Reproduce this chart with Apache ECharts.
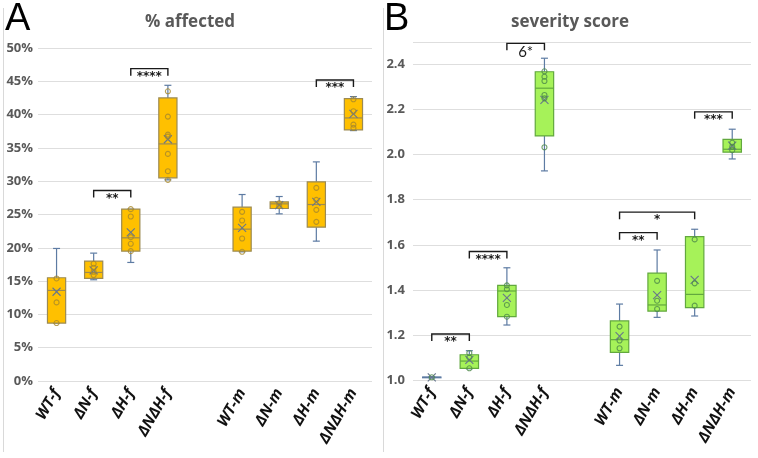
<!DOCTYPE html>
<html>
<head>
<meta charset="utf-8">
<script src="https://cdn.jsdelivr.net/npm/echarts@6/dist/echarts.min.js"></script>
<style>
  html, body { margin: 0; padding: 0; background: #fff; }
  #chart { width: 758px; height: 458px; }
</style>
</head>
<body>
<div id="chart"></div>
<script>
// categories, index 4 is the empty gap between f and m
const categories = ['WT-f', 'ΔN-f', 'ΔH-f', 'ΔNΔH-f', '', 'WT-m', 'ΔN-m', 'ΔH-m', 'ΔNΔH-m']
const groupIndex = [0, 1, 2, 3, 5, 6, 7, 8]

// % affected: [min, q1, median, q3, max, mean]
const affectedStats = [
  [8.7, 8.7, 13.6, 15.5, 19.9, 13.4],
  [15.2, 15.4, 16.3, 18.0, 19.2, 16.6],
  [17.8, 19.5, 21.5, 25.8, 25.8, 22.3],
  [30.2, 30.5, 35.6, 42.5, 44.4, 36.3],
  [19.4, 19.5, 22.8, 26.1, 28.0, 23.0],
  [25.1, 25.9, 26.6, 26.9, 27.7, 26.4],
  [21.0, 23.1, 26.5, 29.9, 32.9, 26.9],
  [37.6, 37.7, 39.5, 42.4, 42.7, 40.1]
]
const affectedPoints = [
  [15.4, 11.8, 8.7],
  [17.6, 17.0, 16.4, 15.9],
  [25.8, 24.7, 21.6, 20.6, 19.5],
  [43.5, 39.7, 37.0, 36.7, 34.1, 31.5, 30.2],
  [25.4, 24.1, 21.4, 19.4],
  [26.7, 26.3],
  [29.0, 27.2, 25.7, 23.9],
  [42.3, 40.5, 38.5, 38.0]
]
// brackets: [from, to, level]
const affectedBrackets = [[1, 2, 28.6], [2, 3, 46.9], [7, 8, 45.2]]
const affectedBracketText = ['**', '****', '***']

// severity score: [min, q1, median, q3, max, mean]
const severityStats = [
  [1.010, 1.010, 1.012, 1.013, 1.014, 1.012],
  [1.050, 1.052, 1.084, 1.112, 1.130, 1.089],
  [1.244, 1.281, 1.395, 1.420, 1.498, 1.364],
  [1.928, 2.083, 2.295, 2.368, 2.428, 2.243],
  [1.065, 1.123, 1.179, 1.262, 1.337, 1.195],
  [1.278, 1.306, 1.333, 1.474, 1.577, 1.377],
  [1.284, 1.321, 1.380, 1.636, 1.669, 1.444],
  [1.981, 2.011, 2.024, 2.068, 2.113, 2.040]
]
const severityPoints = [
  [1.012],
  [1.120, 1.100, 1.052],
  [1.420, 1.403, 1.333, 1.281],
  [2.370, 2.346, 2.327, 2.265, 2.250, 2.033],
  [1.237, 1.175, 1.141],
  [1.440, 1.352, 1.315],
  [1.624, 1.429, 1.330],
  [2.053, 2.035, 2.020]
]
const severityBrackets = [[0, 1, 1.204], [1, 2, 1.570], [2, 3, 2.494], [5, 7, 1.745], [5, 6, 1.654], [7, 8, 2.190]]
const severityBracketText = ['**', '****', '6*', '*', '**', '***']

const whiskerColor = '#5d7ba3'
const meanColor = '#66768c'

function boxRender (fill, stroke) {
  return function (params, api) {
    const x = api.value(0)
    const pMin = api.coord([x, api.value(1)])
    const pQ1 = api.coord([x, api.value(2)])
    const pMed = api.coord([x, api.value(3)])
    const pQ3 = api.coord([x, api.value(4)])
    const pMax = api.coord([x, api.value(5)])
    const pMean = api.coord([x, api.value(6)])
    const half = api.size([1, 0])[0] * 0.245
    const cap = 3.5
    const cx = pMed[0]
    // a flat box (no spread) shows up in the whisker colour
    const boxStroke = pQ1[1] - pQ3[1] < 2 ? whiskerColor : stroke
    const line = (x1, y1, x2, y2, color, w) => ({
      type: 'line',
      shape: { x1, y1, x2, y2 },
      style: { stroke: color, lineWidth: w || 1.2 }
    })
    return {
      type: 'group',
      children: [
        line(cx, pMax[1], cx, pQ3[1], whiskerColor),
        line(cx - cap, pMax[1], cx + cap, pMax[1], whiskerColor),
        line(cx, pQ1[1], cx, pMin[1], whiskerColor),
        line(cx - cap, pMin[1], cx + cap, pMin[1], whiskerColor),
        {
          type: 'rect',
          shape: { x: cx - half, y: pQ3[1], width: half * 2, height: Math.max(pQ1[1] - pQ3[1], 0.5) },
          style: { fill: fill, stroke: boxStroke, lineWidth: 1.2 }
        },
        line(cx - half, pMed[1], cx + half, pMed[1], boxStroke),
        line(cx - 4, pMean[1] - 4, cx + 4, pMean[1] + 4, meanColor, 1.1),
        line(cx - 4, pMean[1] + 4, cx + 4, pMean[1] - 4, meanColor, 1.1)
      ]
    }
  }
}

function bracketRender (texts) {
  return function (params, api) {
    const a = api.coord([api.value(0), api.value(2)])
    const b = api.coord([api.value(1), api.value(2)])
    const t = texts[params.dataIndex]
    const big = /\d/.test(t)
    return {
      type: 'group',
      children: [
        {
          type: 'polyline',
          shape: { points: [[a[0], a[1] + 7], [a[0], a[1]], [b[0], b[1]], [b[0], b[1] + 7]] },
          style: { stroke: '#1a1a1a', lineWidth: 1.4, fill: null }
        },
        {
          type: 'text',
          x: (a[0] + b[0]) / 2,
          y: a[1] + (big ? 1 : 2),
          style: {
            text: t,
            fill: '#1a1a1a',
            font: big ? '15px Lato' : 'bold 12px "DejaVu Sans"',
            align: 'center',
            verticalAlign: 'top'
          }
        }
      ]
    }
  }
}

function boxData (stats) {
  return stats.map((s, i) => [groupIndex[i]].concat(s))
}
function pointData (points) {
  const out = []
  points.forEach((list, i) => list.forEach(v => out.push([groupIndex[i], v])))
  return out
}

const axisLabelStyle = { color: '#595959', fontWeight: 'bold', fontSize: 13, fontFamily: 'Open Sans' }
const splitLineStyle = { show: true, lineStyle: { color: '#dedede', width: 1 } }

function xAxisFor (gridIndex) {
  return {
    type: 'category',
    gridIndex,
    data: categories,
    boundaryGap: true,
    axisLine: { show: false },
    axisTick: { show: false },
    axisLabel: {
      interval: 0,
      rotate: 60,
      margin: 9,
      color: '#111',
      fontSize: 15.5,
      fontWeight: 'bold',
      fontStyle: 'italic',
      fontFamily: 'Open Sans'
    }
  }
}

const chart = echarts.init(document.getElementById('chart'))
chart.setOption({
  animation: false,
  backgroundColor: '#fff',
  graphic: [
    { type: 'line', shape: { x1: 3.5, y1: 8, x2: 3.5, y2: 452 }, style: { stroke: '#d9d9d9', lineWidth: 1 } },
    { type: 'line', shape: { x1: 383.5, y1: 8, x2: 383.5, y2: 452 }, style: { stroke: '#d9d9d9', lineWidth: 1 } },
    { type: 'text', x: 5, y: 1, style: { text: 'A', font: '38px "Liberation Sans"', fill: '#000' } },
    { type: 'text', x: 384, y: 1, style: { text: 'B', font: '38px "Liberation Sans"', fill: '#000' } },
    { type: 'text', x: 190, y: 22, style: { text: '% affected', font: 'bold 17px "Open Sans"', fill: '#595959', align: 'center', verticalAlign: 'middle' } },
    { type: 'text', x: 570, y: 22, style: { text: 'severity score', font: 'bold 17px "Open Sans"', fill: '#595959', align: 'center', verticalAlign: 'middle' } }
  ],
  grid: [
    { left: 38, top: 48, width: 334, height: 333 },
    { left: 413, top: 42, width: 338, height: 338 }
  ],
  xAxis: [xAxisFor(0), xAxisFor(1)],
  yAxis: [
    {
      type: 'value',
      gridIndex: 0,
      min: 0,
      max: 50,
      interval: 5,
      axisLine: { show: false },
      axisTick: { show: false },
      splitLine: splitLineStyle,
      axisLabel: Object.assign({ margin: 5, formatter: '{value}%' }, axisLabelStyle)
    },
    {
      type: 'value',
      gridIndex: 1,
      min: 1.0,
      max: 2.5,
      interval: 0.2,
      axisLine: { show: false },
      axisTick: { show: false },
      splitLine: splitLineStyle,
      axisLabel: Object.assign({ margin: 8, showMaxLabel: false, formatter: v => v.toFixed(1) }, axisLabelStyle)
    }
  ],
  series: [
    {
      type: 'custom',
      xAxisIndex: 0,
      yAxisIndex: 0,
      renderItem: boxRender('#ffc000', '#9c8a52'),
      encode: { x: 0, y: [1, 2, 3, 4, 5, 6] },
      data: boxData(affectedStats),
      z: 2
    },
    {
      type: 'scatter',
      xAxisIndex: 0,
      yAxisIndex: 0,
      symbol: 'circle',
      symbolSize: 5,
      itemStyle: { color: 'rgba(0,0,0,0)', borderColor: '#a8882a', borderWidth: 1.1 },
      data: pointData(affectedPoints),
      z: 3
    },
    {
      type: 'custom',
      xAxisIndex: 0,
      yAxisIndex: 0,
      renderItem: bracketRender(affectedBracketText),
      encode: { x: [0, 1], y: 2 },
      data: affectedBrackets,
      z: 4
    },
    {
      type: 'custom',
      xAxisIndex: 1,
      yAxisIndex: 1,
      renderItem: boxRender('#a6f259', '#62a83e'),
      encode: { x: 0, y: [1, 2, 3, 4, 5, 6] },
      data: boxData(severityStats),
      z: 2
    },
    {
      type: 'scatter',
      xAxisIndex: 1,
      yAxisIndex: 1,
      symbol: 'circle',
      symbolSize: 5,
      itemStyle: { color: 'rgba(0,0,0,0)', borderColor: '#4d8a4a', borderWidth: 1.1 },
      data: pointData(severityPoints),
      z: 3
    },
    {
      type: 'custom',
      xAxisIndex: 1,
      yAxisIndex: 1,
      renderItem: bracketRender(severityBracketText),
      encode: { x: [0, 1], y: 2 },
      data: severityBrackets,
      z: 4
    }
  ]
})
</script>
</body>
</html>
